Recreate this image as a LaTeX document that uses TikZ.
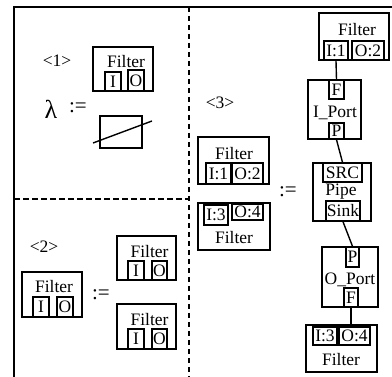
\documentclass[tikz,border=0pt]{standalone}
\usepackage{fontspec}
\setmainfont{Liberation Serif}
\usetikzlibrary{positioning}

\tikzset{
  blk/.style={draw, line width=1.4pt, inner sep=0pt},
  port/.style={draw, line width=1.4pt, inner sep=0pt, minimum height=19pt,
    font=\fontsize{17.5}{17.5}\selectfont},
  lbl/.style={inner sep=0pt, font=\fontsize{17.5}{17.5}\selectfont},
  defs/.style={inner sep=0pt, font=\fontsize{21}{21}\selectfont},
  sepline/.style={line width=1.4pt, dash pattern=on 5.5pt off 3.5pt},
}

\begin{document}
\begin{tikzpicture}[x=1pt, y=-1pt, line width=1.4pt]
    \useasboundingbox (0,0) rectangle (392,377);
    % frame and dashed separators
    \draw (392,7) -- (14,7) -- (14,377);
    \draw[sepline] (189,7) -- (189,377);
    \draw[sepline] (14,199) -- (189,199);

    % <1>
    \node[lbl] (n1) at (57,61) {<1>};
    \node[blk, minimum width=60pt, minimum height=44pt] (f1) at (123,69) {};
    \node[lbl] (f1t) at (126,62) {Filter};
    \node[port, minimum width=16pt] (f1i) at (113,81.5) {I};
    \node[port, minimum width=16pt, minimum height=21pt] (f1o) at (136,80.5) {O};
    \node[defs, font=\fontsize{26}{26}\selectfont] (lam) at (51,109) {λ};
    \node[defs] (d1) at (78,108) {:=};
    \node[blk, minimum width=42pt, minimum height=32pt] (e1) at (121,132) {};
    \draw (93,143) -- (152,121);

    % <2>
    \node[lbl] (n2) at (44,247) {<2>};
    \node[blk, minimum width=60pt, minimum height=45pt] (f2) at (52,294.5) {};
    \node[lbl] (f2t) at (54,287) {Filter};
    \node[port, minimum width=16pt, minimum height=20pt] (f2i) at (41,307) {I};
    \node[port, minimum width=16pt, minimum height=20pt] (f2o) at (65,307) {O};
    \node[defs] (d2) at (101,295) {:=};
    \node[blk, minimum width=59pt, minimum height=44pt] (f2a) at (146.5,258) {};
    \node[lbl] (f2at) at (149.5,252) {Filter};
    \node[port, minimum width=16pt] (f2ai) at (136,270.5) {I};
    \node[port, minimum width=15pt] (f2ao) at (159.5,270.5) {O};
    \node[blk, minimum width=59pt, minimum height=45pt] (f2b) at (146.5,326.5) {};
    \node[lbl] (f2bt) at (149.5,320) {Filter};
    \node[port, minimum width=16pt, minimum height=20pt] (f2bi) at (136,339) {I};
    \node[port, minimum width=15pt, minimum height=20pt] (f2bo) at (159.5,339) {O};

    % <3>
    \node[lbl] (n3) at (220,103) {<3>};
    \node[blk, minimum width=71pt, minimum height=47pt] (f3a) at (233.5,160.5) {};
    \node[lbl] (f3at) at (234,154) {Filter};
    \node[port, minimum width=25pt, minimum height=21pt] (f3ai) at (218.5,173.5) {I:1};
    \node[port, minimum width=31pt, minimum height=21pt] (f3ao) at (247.5,173.5) {O:2};
    \node[defs] (d3) at (288,192) {:=};
    \node[blk, minimum width=72pt, minimum height=47pt] (f3b) at (234,226.5) {};
    \node[port, minimum width=24pt, minimum height=20pt] (f3bi) at (216,215) {I:3};
    \node[port, minimum width=31pt, minimum height=16pt] (f3bo) at (247.5,212) {O:4};
    \node[lbl] (f3bt) at (234,238) {Filter};

    % expansion chain
    \node[blk, minimum width=70pt, minimum height=47pt] (top) at (354,36.5) {};
    \node[lbl] (topt) at (357,30) {Filter};
    \node[port, minimum width=24pt] (topi) at (336,50.5) {I:1};
    \node[port, minimum width=32pt] (topo) at (368,50.5) {O:2};

    \node[blk, minimum width=53pt, minimum height=59pt] (ip) at (334.5,109.5) {};
    \node[port, minimum width=15pt] (ipf) at (336.5,89.5) {F};
    \node[lbl] (ipt) at (335,113) {I\_Port};
    \node[port, minimum width=15pt, minimum height=16pt] (ipp) at (336.5,131) {P};

    \node[blk, minimum width=58pt, minimum height=58pt] (pipe) at (342,192) {};
    \node[port, minimum width=39pt] (src) at (342.5,172.5) {SRC};
    \node[lbl] (pipet) at (341,192) {Pipe};
    \node[port, minimum width=34pt, minimum height=20pt] (sink) at (343,211) {Sink};

    \node[blk, minimum width=56pt, minimum height=60pt] (op) at (350,277) {};
    \node[port, minimum width=13pt, minimum height=20pt] (opp) at (352.5,257) {P};
    \node[lbl] (opt) at (350,280) {O\_Port};
    \node[port, minimum width=14pt] (opf) at (351,297.5) {F};

    \node[blk, minimum width=71pt, minimum height=47pt] (bot) at (341.5,348.5) {};
    \node[port, minimum width=24pt, minimum height=18pt] (boti) at (325,336) {I:3};
    \node[port, minimum width=31pt, minimum height=18pt] (boto) at (354.5,336) {O:4};
    \node[lbl] (bott) at (341,360) {Filter};

    \draw (topi.south) -- (ipf.north);
    \draw (ipp.south) -- (src.north);
    \draw (sink.south) -- (opp.north);
    \draw (opf.south) -- (opf.south |- bot.north);
\end{tikzpicture}
\end{document}
